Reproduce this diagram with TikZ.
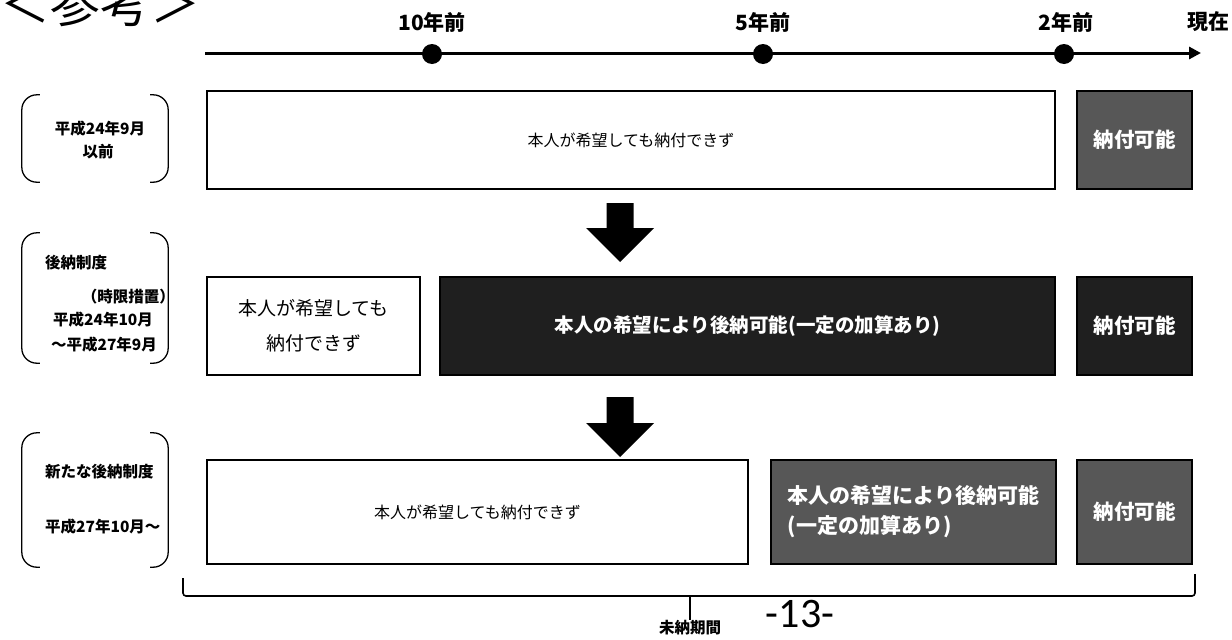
\documentclass[tikz,border=0pt]{standalone}
\usepackage{fontspec}
\setmainfont{Noto Sans CJK JP}
\newfontfamily\pagefont{Carlito}
\usetikzlibrary{arrows.meta}
\begin{document}
\begin{tikzpicture}[x=1pt,y=-1pt,
  wbox/.style={draw, line width=1.3pt, fill=white, inner sep=0pt},
  gbox/.style={draw, line width=1.5pt, fill=black!66, text=white, inner sep=0pt, font=\bfseries\fontsize{20.5}{24}\selectfont},
  dbox/.style={gbox, fill=black!88},
  tlab/.style={font=\bfseries\fontsize{21}{24}\selectfont, inner sep=0pt},
  dot/.style={circle, fill=black, minimum size=20pt, inner sep=0pt},
  brk/.style={draw, line width=1.3pt, rounded corners=15pt},
  brknode/.style={inner sep=0pt, minimum width=146pt},
  ltext/.style={font=\bfseries\fontsize{15.5}{18}\selectfont, inner sep=0pt},
  blockarrow/.style={fill=black},
]
\useasboundingbox (0,0) rectangle (1232,640);

% title
\node[font=\fontsize{50}{50}\selectfont, anchor=base, inner sep=0pt] (title) at (101,22) {＜参考＞};

% timeline
\coordinate (tl0) at (205,53);
\coordinate (tl1) at (1201,53);
\draw[line width=3pt, -{Triangle[length=12pt,width=12pt]}] (tl0) -- (tl1);
\node[dot] (d10) at (432,54) {};
\node[dot] (d5) at (763,54) {};
\node[dot] (d2) at (1064,54) {};
\node[tlab] (l10) at (432,22) {10年前};
\node[tlab] (l5) at (763,22) {5年前};
\node[tlab] (l2) at (1066,22) {2年前};
\node[tlab] (lnow) at (1208,22) {現在};

% left brackets
\node[brknode, minimum height=87pt] (b1) at (95,138.5) {};
\node[brknode, minimum height=130pt] (b2) at (95,298) {};
\node[brknode, minimum height=134pt] (b3) at (95,500) {};
\foreach \b in {b1,b2,b3}{
  \draw[brk] ([xshift=18pt]\b.north west) -- (\b.north west) -- (\b.south west) -- ([xshift=18pt]\b.south west);
  \draw[brk] ([xshift=-18pt]\b.north east) -- (\b.north east) -- (\b.south east) -- ([xshift=-18pt]\b.south east);
}
\node[ltext] (t1a) at (100,129) {平成24年9月};
\node[ltext] (t1b) at (98,152) {以前};
\node[ltext, anchor=west] (t2a) at (45,263) {後納制度};
\node[ltext, anchor=east] (t2b) at (175,297) {（時限措置）};
\node[ltext] (t2c) at (103,320) {平成24年10月};
\node[ltext] (t2d) at (104,345) {～平成27年9月};
\node[ltext, anchor=west] (t3a) at (45,472) {新たな後納制度};
\node[ltext, anchor=west] (t3b) at (45,527) {平成27年10月～};

% row 1
\node[wbox, minimum width=848pt, minimum height=98pt, font=\fontsize{16}{18}\selectfont] (w1) at (631,140) {本人が希望しても納付できず};
\node[gbox, minimum width=115pt, minimum height=98pt] (g1) at (1134.5,140) {納付可能};

% row 2
\node[wbox, minimum width=213pt, minimum height=98pt, align=center, font=\fontsize{19}{35}\selectfont] (w2) at (313.5,326) {本人が希望しても\\納付できず};
\node[dbox, minimum width=615pt, minimum height=98pt, font=\bfseries\fontsize{19.5}{22}\selectfont] (dk2) at (747.5,326) {本人の希望により後納可能(一定の加算あり)};
\node[dbox, minimum width=115pt, minimum height=98pt] (g2) at (1134.5,326) {納付可能};

% row 3
\node[wbox, minimum width=541pt, minimum height=104pt, font=\fontsize{16}{18}\selectfont] (w3) at (477.5,512) {本人が希望しても納付できず};
\node[gbox, minimum width=285pt, minimum height=104pt, align=left, font=\bfseries\fontsize{21}{30}\selectfont] (g3b) at (913.5,512) {本人の希望により後納可能\\(一定の加算あり)};
\node[gbox, minimum width=115pt, minimum height=104pt] (g3) at (1134.5,512) {納付可能};

% block arrows
\coordinate (a1s) at (620,203);
\coordinate (a1e) at (620,262);
\coordinate (a2s) at (620,397);
\coordinate (a2e) at (620,457);
\fill[blockarrow] (a1s) ++(-13.5,0) -- ++(27,0) -- ++(0,25) -- ++(20.5,0) -- (a1e) -- ++(-34,-34) -- ++(20.5,0) -- cycle;
\fill[blockarrow] (a2s) ++(-13.5,0) -- ++(27,0) -- ++(0,26) -- ++(20.5,0) -- (a2e) -- ++(-34,-34) -- ++(20.5,0) -- cycle;

% brace
\coordinate (bl) at (183,578);
\coordinate (br) at (1195,574);
\coordinate (bm) at (690,596);
\draw[line width=1.6pt, rounded corners=3pt] (bl) |- (bm) -| (br);
\node[ltext] (mn) at (690,628) {未納期間};
\draw[line width=1.6pt] (bm) -- (mn.north);

% page number
\node[font=\pagefont\fontsize{42}{42}\selectfont, anchor=base, inner sep=0pt] (pg) at (800,627) {-13-};
\end{tikzpicture}
\end{document}
